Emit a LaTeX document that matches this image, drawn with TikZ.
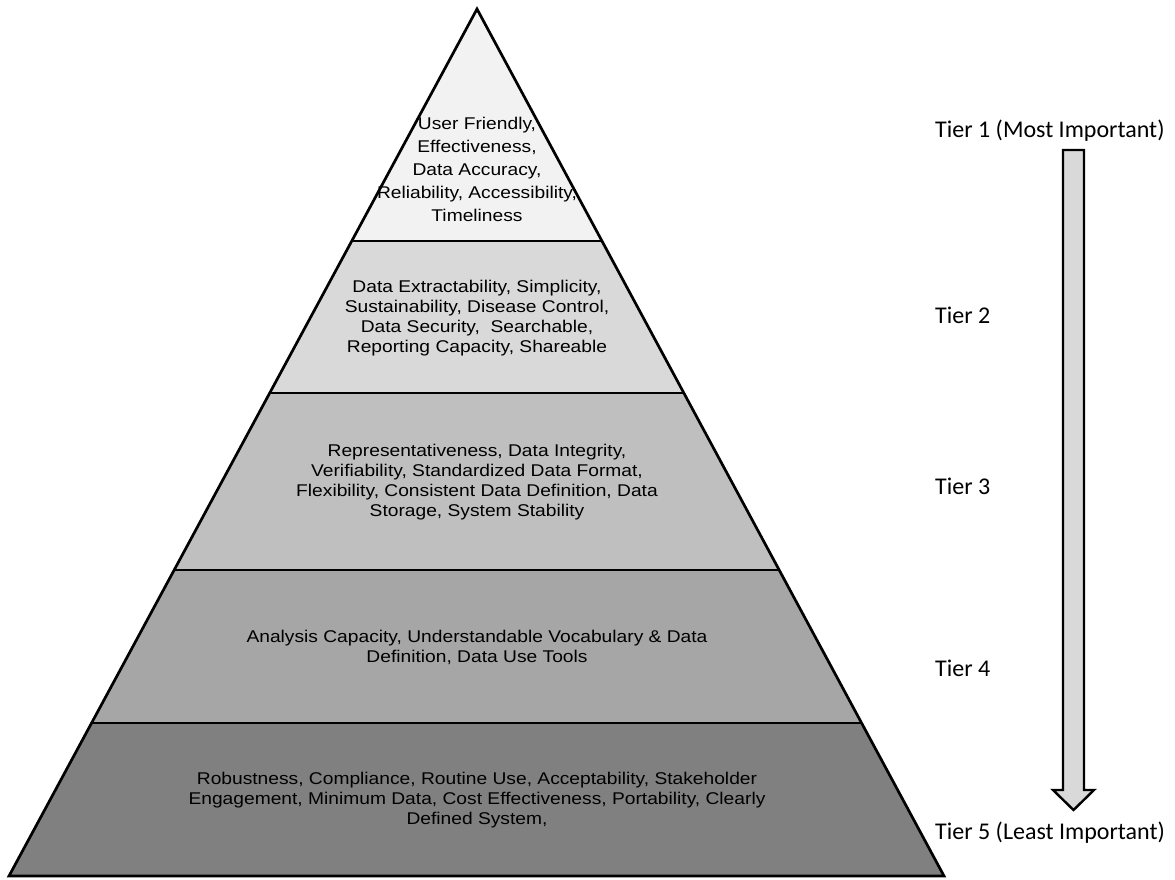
\documentclass[tikz,border=0pt]{standalone}
\usepackage{fontspec}
\newfontfamily\pyrfont[FakeStretch=1.13]{Liberation Sans}
\newfontfamily\tierfont{Carlito}
\usetikzlibrary{calc}
\definecolor{tierA}{HTML}{F2F2F2}
\definecolor{tierB}{HTML}{D9D9D9}
\definecolor{tierC}{HTML}{BFBFBF}
\definecolor{tierD}{HTML}{A6A6A6}
\definecolor{tierE}{HTML}{808080}
\definecolor{arrowfill}{HTML}{D9D9D9}
\tikzset{
  outline/.style={line width=2.7pt, line join=miter},
  divider/.style={line width=2.4pt},
  bandtext/.style={align=center, inner sep=0pt, font=\pyrfont\fontsize{17}{20}\selectfont},
  toptext/.style={bandtext, font=\pyrfont\fontsize{17}{23}\selectfont},
  tierlabel/.style={anchor=base west, inner sep=0pt, font=\tierfont\fontsize{24}{28}\selectfont}
}
\begin{document}
\begin{tikzpicture}[x=1pt,y=-1pt]
\useasboundingbox (0,0) rectangle (1175,880);
% pyramid corners
\coordinate (apex) at (477,9);
\coordinate (bl) at (9,876);
\coordinate (br) at (944,876);
% band boundaries on the two slanted sides
\foreach \n/\t in {1/0.2676,2/0.4429,3/0.6471,4/0.8235}{
  \coordinate (l\n) at ($(apex)!\t!(bl)$);
  \coordinate (r\n) at ($(apex)!\t!(br)$);
}
% band fills
\fill[tierA] (apex) -- (r1) -- (l1) -- cycle;
\fill[tierB] (l1) -- (r1) -- (r2) -- (l2) -- cycle;
\fill[tierC] (l2) -- (r2) -- (r3) -- (l3) -- cycle;
\fill[tierD] (l3) -- (r3) -- (r4) -- (l4) -- cycle;
\fill[tierE] (l4) -- (r4) -- (br) -- (bl) -- cycle;
% dividers and outline
\foreach \n in {1,2,3,4}{\draw[divider] (l\n) -- (r\n);}
\draw[outline] (apex) -- (br) -- (bl) -- cycle;

% band texts
\node[toptext] (t1) at (477,169) {User Friendly,\\Effectiveness,\\Data Accuracy,\\Reliability, Accessibility,\\Timeliness};
\node[bandtext] (t2) at (477,318) {Data Extractability, Simplicity,\\Sustainability, Disease Control,\\Data Security,\ \ Searchable,\\Reporting Capacity, Shareable};
\node[bandtext] (t3) at (477,482) {Representativeness, Data Integrity,\\Verifiability, Standardized Data Format,\\Flexibility, Consistent Data Definition, Data\\Storage, System Stability};
\node[bandtext] (t4) at (477,647) {Analysis Capacity, Understandable Vocabulary \& Data\\Definition, Data Use Tools};
\node[bandtext] (t5) at (477,800) {Robustness, Compliance, Routine Use, Acceptability, Stakeholder\\Engagement, Minimum Data, Cost Effectiveness, Portability, Clearly\\Defined System,};

% tier labels
\node[tierlabel] (k1) at (935,138) {Tier 1 (Most Important)};
\node[tierlabel] (k2) at (935,323) {Tier 2};
\node[tierlabel] (k3) at (935,494) {Tier 3};
\node[tierlabel] (k4) at (935,676) {Tier 4};
\node[tierlabel] (k5) at (935,839) {Tier 5 (Least Important)};

% importance arrow
\coordinate (s1) at (1063,150);
\coordinate (s2) at (1084,150);
\coordinate (s3) at (1084,790);
\coordinate (h1) at (1094,790);
\coordinate (tip) at (1073.5,810);
\coordinate (h2) at (1053,790);
\coordinate (s4) at (1063,790);
\fill[black, opacity=0.18, shift={(2.5,2.5)}] (s1) -- (s2) -- (s3) -- (h1) -- (tip) -- (h2) -- (s4) -- cycle;
\draw[fill=arrowfill, line width=2.4pt, line join=miter] (s1) -- (s2) -- (s3) -- (h1) -- (tip) -- (h2) -- (s4) -- cycle;
\end{tikzpicture}
\end{document}
